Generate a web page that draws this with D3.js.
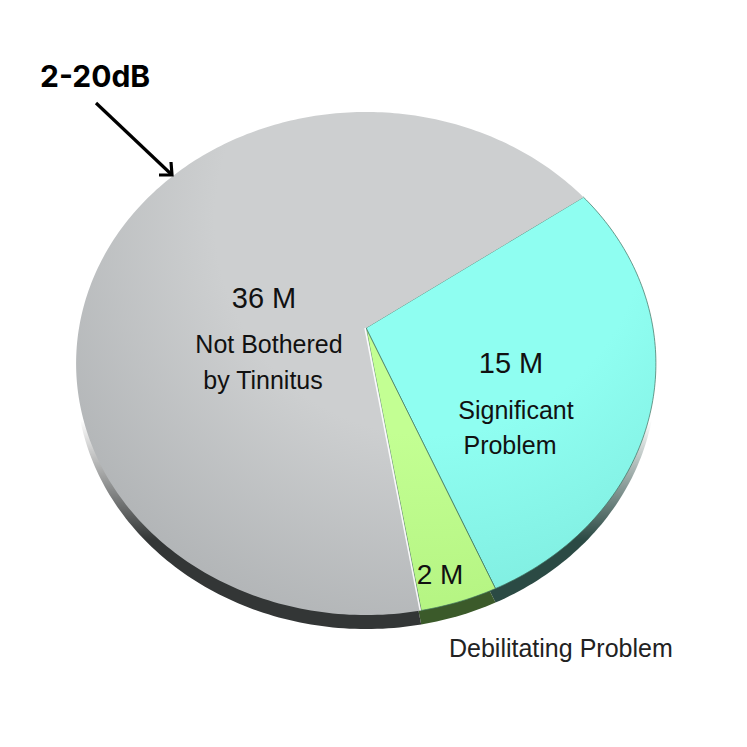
<!DOCTYPE html>
<html>
<head>
<meta charset="utf-8">
<script src="https://cdn.jsdelivr.net/npm/d3@7"></script>
<style>
  html, body { margin: 0; padding: 0; background: #fff; }
  svg { display: block; }
</style>
</head>
<body>
<div id="chart"></div>
<script>
// data
var categories = ["Significant Problem", "Debilitating Problem", "Not Bothered by Tinnitus"];
var values = [15, 2, 36];
var valueLabels = ["15 M", "2 M", "36 M"];
var topColors = ["#8ffef1", "#c3ff93", "#cdcfd0"];
var edgeColors = ["#7deadd", "#b2f27f", "#b1b4b6"];
var sideColors = ["#2b4a44", "#3b5a2a", "#333636"];

var svgWidth = 747;
var svgHeight = 747;

var svg = d3.select("#chart")
  .append("svg")
  .attr("width", svgWidth)
  .attr("height", svgHeight);

// perspective of the tilted disk: unit circle -> screen
var apexX = 366, apexY = 328;
var persp = -0.1412, vScale = 200.2, hScale = 287;
var depth = 14;
function project(angle, r) {
  var u = Math.sin(angle) * r;
  var v = -Math.cos(angle) * r;
  var den = 1 + persp * v;
  return [apexX + hScale * u / den, (vScale * v + apexY) / den];
}

var pie = d3.pie()
  .sort(null)
  .value(d => d)
  .startAngle(55 * Math.PI / 180)
  .endAngle(55 * Math.PI / 180 + 2 * Math.PI);

var arcs = pie(values);

function slicePoints(d, dy) {
  var pts = [[apexX, apexY + dy]];
  var n = Math.max(8, Math.ceil((d.endAngle - d.startAngle) * 60));
  for (var i = 0; i <= n; i++) {
    var a = d.startAngle + (d.endAngle - d.startAngle) * i / n;
    var p = project(a, 1);
    pts.push([p[0], p[1] + dy]);
  }
  return pts;
}
var line = d3.line().curve(d3.curveLinearClosed);

// gradients
var defs = svg.append("defs");
topColors.forEach(function(c, i) {
  var g = defs.append("radialGradient")
    .attr("id", "grad" + i)
    .attr("gradientUnits", "userSpaceOnUse")
    .attr("cx", 430).attr("cy", 220).attr("r", 430);
  g.append("stop").attr("offset", "0%").attr("stop-color", c);
  g.append("stop").attr("offset", "50%").attr("stop-color", c);
  g.append("stop").attr("offset", "100%").attr("stop-color", edgeColors[i]);
});
// rim fades out towards the upper part of the disk
var rimFade = defs.append("linearGradient")
  .attr("id", "rimFade")
  .attr("gradientUnits", "userSpaceOnUse")
  .attr("x1", 0).attr("y1", 420).attr("x2", 0).attr("y2", 540);
rimFade.append("stop").attr("offset", "0%").attr("stop-color", "#000");
rimFade.append("stop").attr("offset", "100%").attr("stop-color", "#fff");
defs.append("mask")
  .attr("id", "rimMask")
  .attr("maskUnits", "userSpaceOnUse")
  .attr("x", 0).attr("y", 0)
  .attr("width", svgWidth).attr("height", svgHeight)
  .append("rect")
  .attr("width", svgWidth).attr("height", svgHeight)
  .attr("fill", "url(#rimFade)");

var pieGroup = svg.append("g");

// side (thickness) of the pie
pieGroup.append("g")
  .attr("mask", "url(#rimMask)")
  .selectAll("path")
  .data(arcs)
  .enter()
  .append("path")
  .attr("d", d => line(slicePoints(d, depth)))
  .attr("fill", (d, i) => sideColors[i]);

// top face
pieGroup.append("g").selectAll("path")
  .data(arcs)
  .enter()
  .append("path")
  .attr("d", d => line(slicePoints(d, 0)))
  .attr("fill", (d, i) => "url(#grad" + i + ")")
  .attr("stroke", (d, i) => i === 2 ? "none" : "#3f6f5e")
  .attr("stroke-width", 1)
  .attr("stroke-opacity", 0.7);

// thin highlight along the grey edge next to the green slice
var gEdge = project(arcs[2].startAngle, 1);
pieGroup.append("line")
  .attr("x1", apexX - 1).attr("y1", apexY)
  .attr("x2", gEdge[0] - 1).attr("y2", gEdge[1])
  .attr("stroke", "#ffffff")
  .attr("stroke-width", 1.5)
  .attr("stroke-opacity", 0.9);

// labels
var font = "'Liberation Sans', Arial, sans-serif";
var labelGroup = svg.append("g")
  .attr("font-family", font)
  .attr("fill", "#111")
  .attr("text-anchor", "middle");

function addText(x, y, size, txt) {
  labelGroup.append("text")
    .attr("x", x).attr("y", y)
    .attr("font-size", size)
    .text(txt);
}
addText(264, 308, 29, valueLabels[2]);
addText(269, 353, 25, "Not Bothered");
addText(263, 389, 25, "by Tinnitus");
addText(511, 373, 29, valueLabels[0]);
addText(516, 419, 25, "Significant");
addText(510, 454, 25, "Problem");
addText(440, 584, 28, valueLabels[1]);

labelGroup.append("text")
  .attr("x", 449).attr("y", 657)
  .attr("text-anchor", "start")
  .attr("font-size", 25)
  .attr("fill", "#222")
  .text(categories[1]);

// annotation
svg.append("text")
  .attr("x", 40).attr("y", 87)
  .attr("font-family", "Inter, 'Noto Sans', sans-serif")
  .attr("font-weight", 700)
  .attr("font-size", 30)
  .attr("fill", "#000")
  .text("2-20dB");

svg.append("line")
  .attr("x1", 96).attr("y1", 103)
  .attr("x2", 171).attr("y2", 174)
  .attr("stroke", "#000")
  .attr("stroke-width", 3.2);
svg.append("path")
  .attr("d", "M159,175 L172,175 L171,162")
  .attr("fill", "none")
  .attr("stroke", "#000")
  .attr("stroke-width", 3.2)
  .attr("stroke-linejoin", "miter");
</script>
</body>
</html>
